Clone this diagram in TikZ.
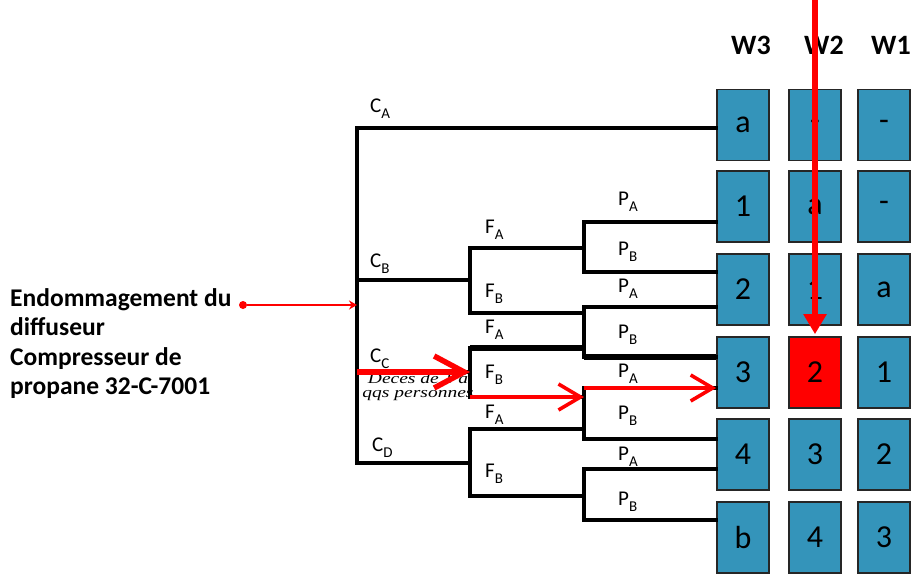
\documentclass[tikz,border=0pt]{standalone}
\usepackage{fontspec}
\setmainfont{Carlito}
\newfontfamily\decesfont{Liberation Serif}
\usetikzlibrary{arrows.meta,positioning}

\definecolor{cellblue}{RGB}{52,148,186}
\definecolor{pathred}{RGB}{255,0,0}

% letter with a lowered index, e.g. C_A
\newcommand\lblsub[2]{#1\raisebox{-0.32em}{\fontsize{15}{15}\selectfont #2}}

\tikzset{
  cell/.style={draw=black!85,line width=1.6pt,fill=cellblue,minimum width=52pt,
    minimum height=71pt,inner sep=0pt,font=\fontsize{32}{34}\selectfont},
  branch/.style={line width=3.2pt,line cap=rect},
  lbl/.style={inner sep=0pt,anchor=base west,font=\fontsize{21}{23}\selectfont},
  head/.style={inner sep=0pt,anchor=base west,font=\bfseries\fontsize{28}{30}\selectfont},
  redpath/.style={pathred,line width=3.6pt,-{Straight Barb[length=22pt,width=26pt]}}
}

\begin{document}
\begin{tikzpicture}[x=1pt,y=-1pt]
	\useasboundingbox (0,0) rectangle (920,573);

	% matrix of the three columns
	\foreach \y/\p/\q/\r/\n/\c in {125/a/-/-/1/cellblue, 206.5/1/a/-/2/cellblue,
		289.5/2/1/a/3/cellblue, 372.5/3/2/1/4/pathred, 454.5/4/3/2/5/cellblue,
		537.5/b/4/3/6/cellblue} {
		\node[cell] (w3-\n) at (743,\y) {\p};
		\node[cell,fill=\c] (w2-\n) at (815,\y) {\q};
		\node[cell] (w1-\n) at (884,\y) {\r};
	}
	\node[head] at (731,54) {W3};
	\node[head] at (804,54) {W2};
	\node[head] at (871,54) {W1};

	% event tree
	\coordinate (cA) at (357,128);
	\coordinate (cD) at (357,463);
	\draw[branch] (cA -| w3-1.west) -- (cA) -- (cD);
	\foreach \t/\b/\s in {248/313/280, 348/397/372, 429/496/463} {
		\draw[branch] (357,\s) -- (470,\s);
		\draw[branch] (584,\t) -- (470,\t) -- (470,\b) -- (584,\b);
	}
	\foreach \t/\b [count=\i] in {222/272, 307/357, 388/439, 469/520} {
		\coordinate (pt\i) at (584,\t);
		\coordinate (pb\i) at (584,\b);
		\draw[branch] (pt\i -| w3-1.west) -- (pt\i) -- (pb\i) -- (pb\i -| w3-1.west);
	}
	\draw[line width=6pt] (470,348) -- (584,348);
	\draw[line width=6pt] (pb2) -- (pb2 -| w3-1.west);

	% branch labels
	\foreach \x/\y/\m/\s in {370/112/C/A, 370/267/C/B, 370/362/C/C, 372/451/C/D,
		485/233/F/A, 485/297/F/B, 485/333/F/A, 485/378/F/B, 485/418/F/A, 485/477/F/B,
		618/205/P/A, 618/255/P/B, 618/292/P/A, 618/338/P/B,
		618/377/P/A, 618/419/P/B, 618/460/P/A, 618/505/P/B}
		\node[lbl] at (\x,\y) {\lblsub{\m}{\s}};

	% initiating event
	\node[inner sep=0pt,anchor=north west,align=left,
		font=\bfseries\fontsize{25.5}{29.5}\selectfont] (event) at (10,288)
		{Endommagement du\\diffuseur\\Compresseur de\\propane 32-C-7001};
	\node[circle,fill=pathred,inner sep=0pt,minimum size=8pt] (src) at (243,305) {};
	\coordinate (root) at (357,305);
	\draw[pathred,line width=2.2pt,-{Stealth[length=8pt,width=9pt]}] (src) -- (root);

	\node[inner sep=0pt,align=center,font=\decesfont\itshape\fontsize{15}{13.5}\selectfont]
		(deces) at (418,387) {\scalebox{1.3}[1]{Décès de 1 à}\\\scalebox{1.3}[1]{qqs personnes}};

	% highlighted sequence
	\draw[pathred,line width=5.5pt,-{Straight Barb[length=30pt,width=32pt]}] (357,372) -- (470,372);
	\draw[redpath] (470,397) -- (584,397);
	\draw[redpath] (pt3) -- (pt3 -| w3-1.west);
	\coordinate (drop) at (815,0);
	\draw[pathred,line width=6.5pt,-{Triangle[length=20pt,width=22pt]},shorten >=2pt] (drop) -- (w2-4.north);
\end{tikzpicture}
\end{document}
